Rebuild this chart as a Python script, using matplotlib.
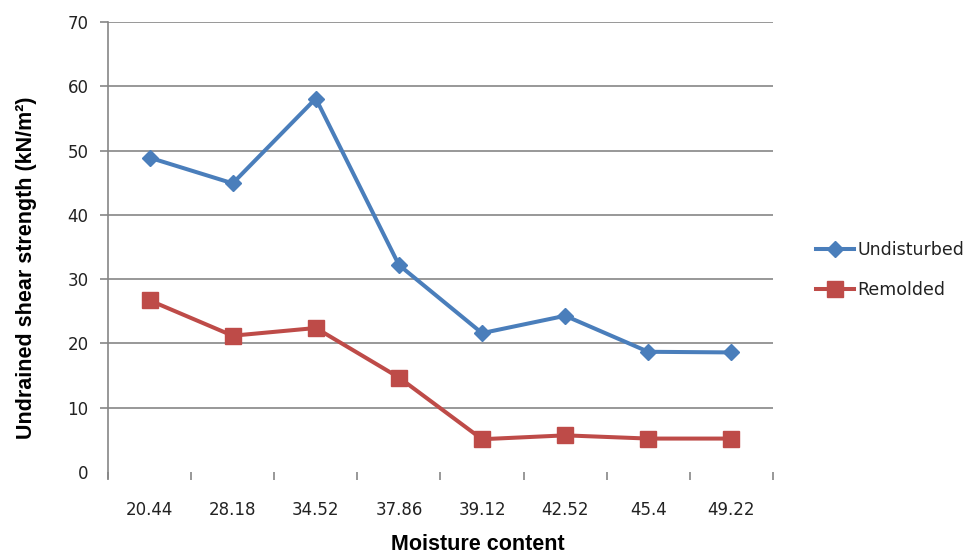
import matplotlib
matplotlib.use("Agg")
from matplotlib import pyplot as plt
import numpy as np

# moisture content categories and shear strengths (kN/m2)
moisture = ["20.44", "28.18", "34.52", "37.86", "39.12", "42.52", "45.4", "49.22"]
undisturbed = [48.9, 44.9, 58.1, 32.2, 21.6, 24.3, 18.7, 18.6]
remolded = [26.7, 21.2, 22.4, 14.7, 5.1, 5.7, 5.2, 5.2]

blue = "#4A7EBB"
red = "#BE4B48"
grid_col = "#868686"

fig = plt.figure(figsize=(9.66, 5.56), dpi=100)
ax = fig.add_axes([108 / 966, 1 - 472 / 556, (773 - 108) / 966, (472 - 22) / 556])

x = np.arange(len(moisture))
ax.plot(x, undisturbed, color=blue, lw=2.9, marker="D", markersize=8,
        label="Undisturbed", clip_on=False)
ax.plot(x, remolded, color=red, lw=2.9, marker="s", markersize=11,
        label="Remolded", clip_on=False)

ax.set_xlim(-0.5, len(moisture) - 0.5)
ax.set_ylim(0, 70)
ax.set_yticks(range(0, 71, 10))
ax.set_xticks(x)
ax.set_xticklabels(moisture)
ax.set_xticks(np.arange(-0.5, len(moisture)), minor=True)

# horizontal gridlines, none on the zero line
ax.yaxis.grid(True, color=grid_col, lw=1.2)
ax.set_axisbelow(True)
for t in ax.yaxis.get_major_ticks()[:1]:
    t.gridline.set_visible(False)
    t.tick1line.set_visible(False)

for s in ["top", "right", "bottom"]:
    ax.spines[s].set_visible(False)
ax.spines["left"].set_color(grid_col)
ax.spines["left"].set_linewidth(1.2)
ax.spines["left"].set_bounds(-1.0, 70)

ax.tick_params(axis="y", length=6, width=1.2, color=grid_col, pad=8,
               labelsize=12, labelcolor="#222222")
ax.tick_params(axis="x", which="major", length=0, pad=21,
               labelsize=12, labelcolor="#222222")
ax.tick_params(axis="x", which="minor", length=6, width=1.2, color=grid_col)

fig.text(478 / 966, 1 - 545 / 556, "Moisture content", ha="center", va="center",
         family="Liberation Sans", fontweight="bold", fontsize=15.5)
fig.text(27 / 966, 1 - 268 / 556, "Undrained shear strength (kN/m²)", ha="center",
         va="center", rotation=90, family="Liberation Sans", fontweight="bold",
         fontsize=15.5)

leg = fig.legend(loc="center left", bbox_to_anchor=(800 / 966, 1 - 270 / 556),
                 frameon=False, fontsize=12.5, handlelength=2.2,
                 handletextpad=0.2, labelspacing=1.3)
for txt in leg.get_texts():
    txt.set_color("#222222")

fig.savefig("out.png", dpi=100)
